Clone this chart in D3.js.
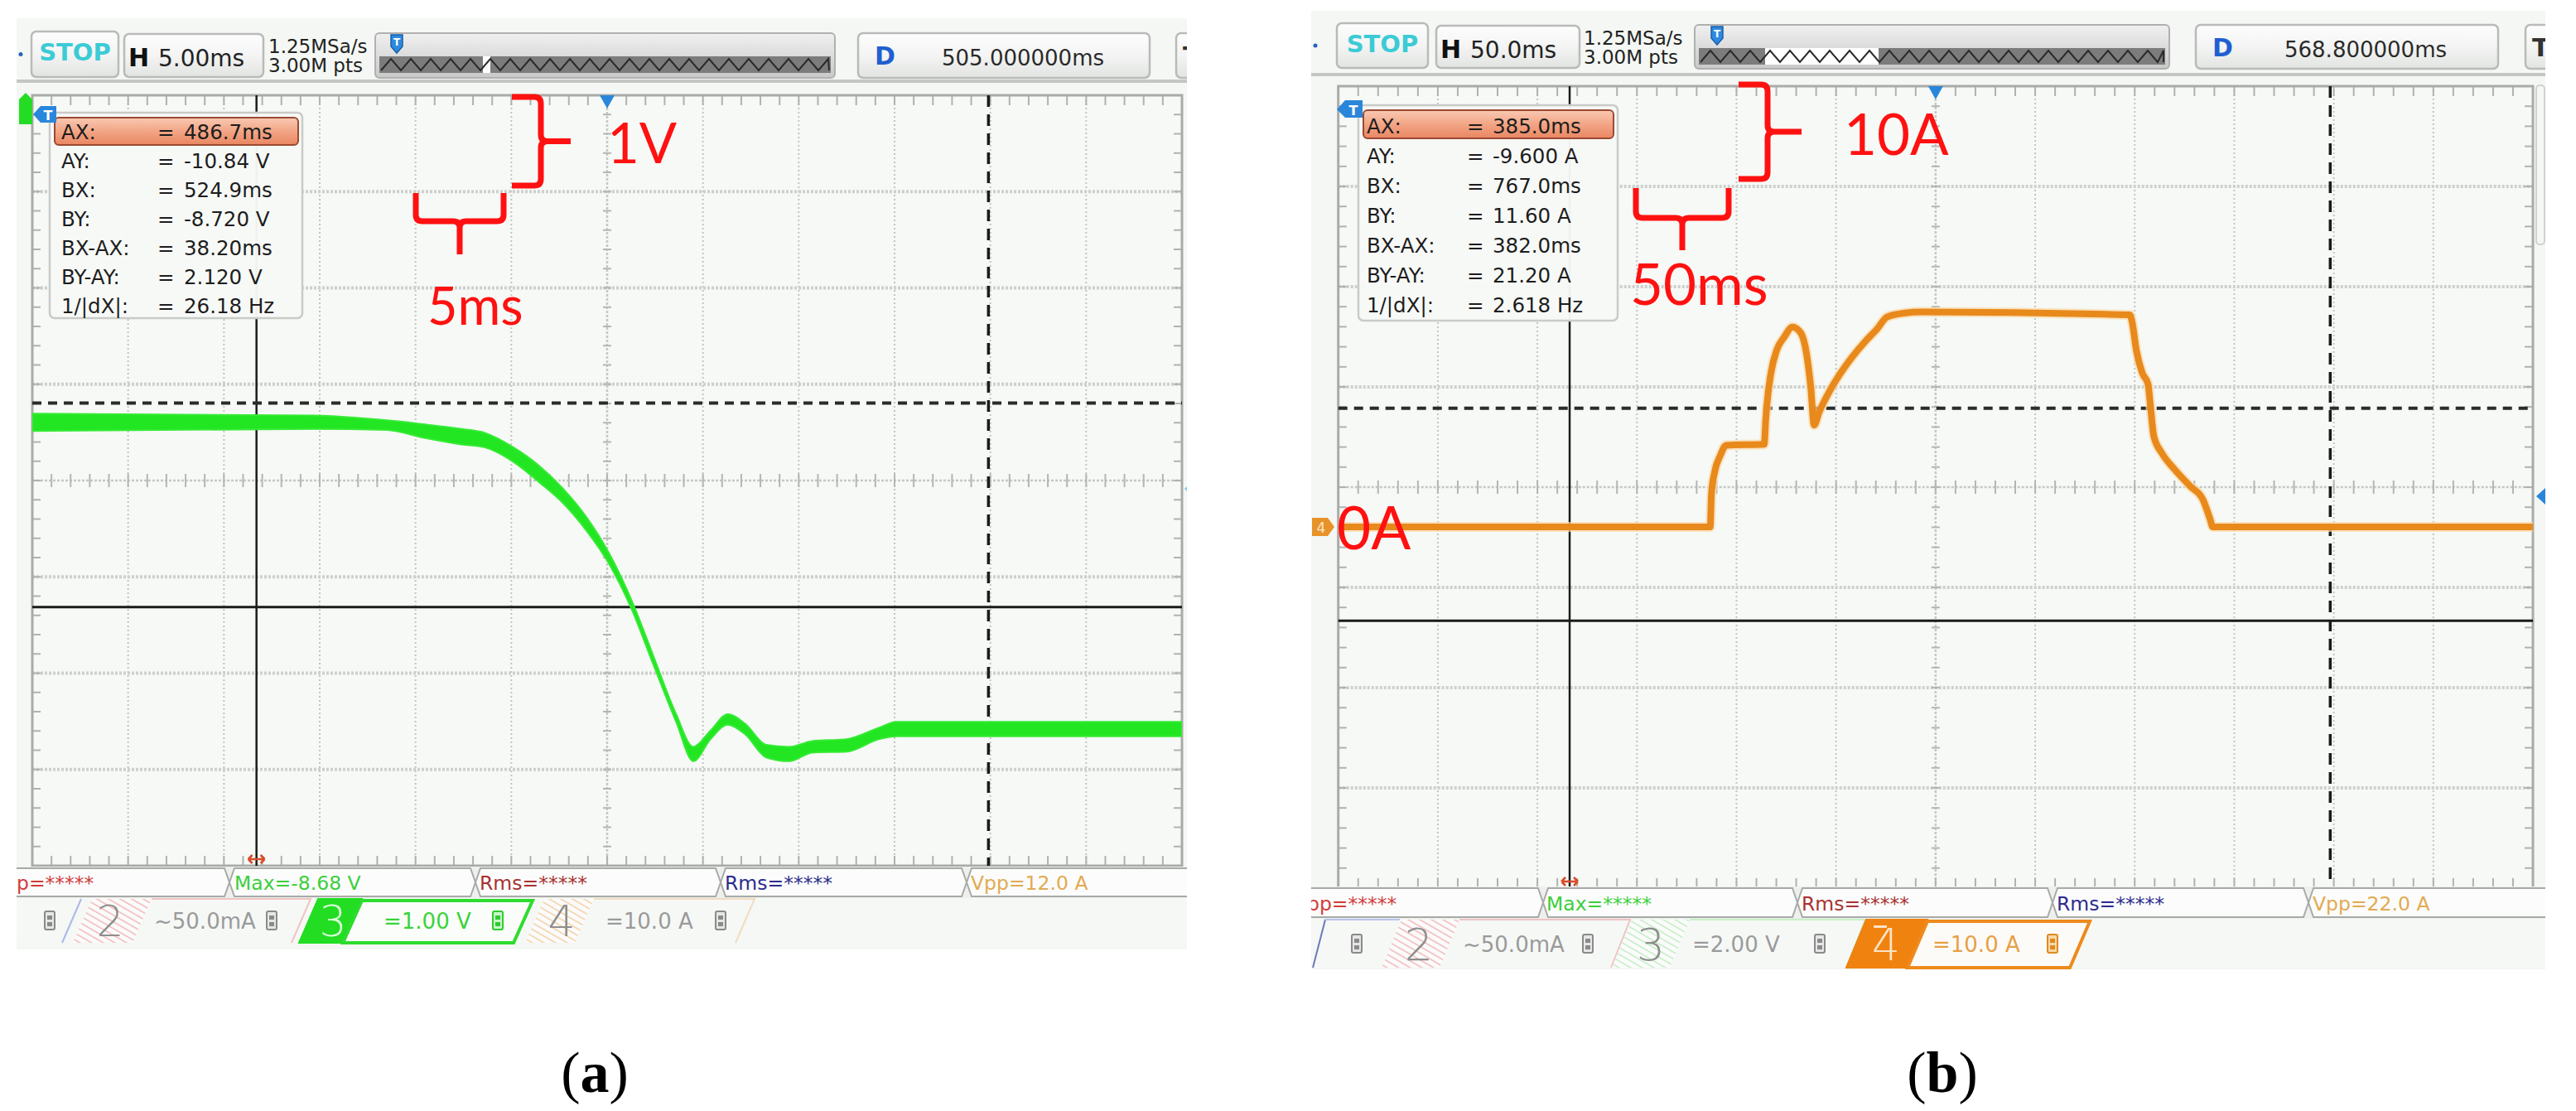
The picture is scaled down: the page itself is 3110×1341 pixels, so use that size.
<!DOCTYPE html>
<html><head><meta charset="utf-8">
<script src="https://cdn.jsdelivr.net/npm/d3@7"></script>
<style>body{margin:0;background:#fff}svg{display:block}</style>
</head><body>
<svg id="c" width="3110" height="1341"></svg>
<script>
// ================= DATA =================
// scope settings (a) and (b)
const timebaseText = ["5.00ms", "50.0ms"];
const delayText = ["505.000000ms", "568.800000ms"];
const sampleText = ["1.25MSa/s", "3.00M pts"];
const hDivMs = [5, 50];          // ms per division
const delayMs = [505.0, 568.8];  // screen centre time
const vDiv = [1, 10];            // V/div, A/div
const vCenter = [-9.525, 3.72];  // value at screen centre line

// cursor readouts
const cursorNames = ["AX:", "AY:", "BX:", "BY:", "BX-AX:", "BY-AY:", "1/|dX|:"];
const cursorValsA = ["486.7ms", "-10.84 V", "524.9ms", "-8.720 V", "38.20ms", "2.120 V", "26.18 Hz"];
const cursorValsB = ["385.0ms", "-9.600 A", "767.0ms", "11.60 A", "382.0ms", "21.20 A", "2.618 Hz"];
const cursorPosA = [486.7, -10.84, 524.9, -8.72];   // AX, AY, BX, BY
const cursorPosB = [385.0, -9.6, 767.0, 11.6];

// measurement bar and channel bar
const measA = ["p=*****", "Max=-8.68 V", "Rms=*****", "Rms=*****", "Vpp=12.0 A"];
const measB = ["pp=*****", "Max=*****", "Rms=*****", "Rms=*****", "Vpp=22.0 A"];
const chanA = ["~50.0mA", "=1.00 V", "=10.0 A"];
const chanB = ["~50.0mA", "=2.00 V", "=10.0 A"];

// (a) channel 3 voltage trace: time (ms), upper and lower edge of the noisy band (V)
const voltTime = [475.0, 489.7, 493.5, 495.4, 497.4, 498.6, 500.1, 501.5, 502.7, 503.9, 505.1, 506.3, 507.4, 508.6, 509.5, 510.4, 511.3, 512.2, 513.3, 514.5, 515.7, 517.5, 519.2, 520.1, 535.0];
const voltHigh = [-8.83, -8.85, -8.90, -8.94, -8.99, -9.03, -9.18, -9.38, -9.61, -9.90, -10.28, -10.78, -11.34, -11.95, -12.29, -12.12, -11.95, -12.05, -12.27, -12.29, -12.23, -12.21, -12.09, -12.03, -12.03];
const voltLow  = [-9.01, -8.99, -9.00, -9.08, -9.15, -9.18, -9.33, -9.55, -9.76, -10.04, -10.39, -10.87, -11.43, -12.03, -12.44, -12.21, -12.06, -12.16, -12.40, -12.44, -12.35, -12.34, -12.21, -12.18, -12.18];

// (b) channel 4 current trace: time (ms), current (A)
const currTime = [268.8, 455.6, 456.2, 457.8, 460.7, 463.6, 482.7, 483.5, 484.0, 486.1, 489.0, 492.8, 496.9, 501.1, 504.0, 506.1, 507.8, 510.3, 515.3, 521.1, 527.3, 533.2, 539.4, 544.4, 553.6, 561.5, 666.3, 667.6, 669.6, 672.6, 675.5, 676.7, 678.4, 682.5, 688.8, 696.7, 703.0, 706.7, 708.0, 868.8];
const currAmp  = [-0.25, -0.25, 3.0, 5.2, 6.9, 7.9, 8.0, 10.5, 11.8, 15.1, 17.4, 18.7, 19.7, 19.1, 17.0, 13.7, 9.9, 11.2, 13.2, 15.1, 16.8, 18.2, 19.5, 20.7, 21.1, 21.2, 20.9, 20.1, 17.4, 15.1, 14.0, 11.8, 8.8, 7.1, 5.5, 3.8, 2.5, 0.5, -0.25, -0.25];

// red annotations and captions
const annoA = ["1V", "5ms"];
const annoB = ["10A", "50ms", "0A"];
const captions = ["a", "b"];

// ================= DRAWING =================
const UI = "'DejaVu Sans', Verdana, sans-serif";
const svg = d3.select("#c");
svg.append("rect").attr("width", 3110).attr("height", 1341).attr("fill", "#fff");
const defs = svg.append("defs");

function lin(id, stops, vertical = true) {
  const g = defs.append("linearGradient").attr("id", id)
    .attr("x1", 0).attr("y1", 0).attr("x2", vertical ? 0 : 1).attr("y2", vertical ? 1 : 0);
  stops.forEach(s => g.append("stop").attr("offset", s[0]).attr("stop-color", s[1]));
}
lin("btn", [[0, "#fdfdfd"], [0.5, "#f3f4f3"], [1, "#e2e4e2"]]);
lin("tlg", [[0, "#f0f0f0"], [1, "#c9c9c9"]]);
lin("hl", [[0, "#f9c9b3"], [0.5, "#f2a585"], [1, "#e98662"]]);
function hatch(id, col) {
  const p = defs.append("pattern").attr("id", id).attr("patternUnits", "userSpaceOnUse")
    .attr("width", 7).attr("height", 7).attr("patternTransform", "rotate(-60)");
  p.append("rect").attr("width", 7).attr("height", 7).attr("fill", "#fbfbfb");
  p.append("line").attr("x1", 0).attr("y1", 0).attr("x2", 0).attr("y2", 7).attr("stroke", col).attr("stroke-width", 3);
}
hatch("hpink", "#f2b7b7");
hatch("hgreen", "#bfeebf");
hatch("horange", "#f4cfa2");

function rbox(g, x, y, w, h, fill = "url(#btn)", stroke = "#b9bbb9", r = 6, sw = 2.5) {
  return g.append("rect").attr("x", x).attr("y", y).attr("width", w).attr("height", h)
    .attr("rx", r).attr("fill", fill).attr("stroke", stroke).attr("stroke-width", sw);
}
function txt(g, x, y, s, size, col = "#222", opts = {}) {
  return g.append("text").attr("x", x).attr("y", y).text(s)
    .attr("font-family", opts.family || UI).attr("font-size", size).attr("fill", col)
    .attr("font-weight", opts.weight || "normal").attr("text-anchor", opts.anchor || "start");
}
function icon(g, cx, cy, col = "#8a8a8a", fill = "#e6e6e6") {
  g.append("rect").attr("x", cx - 6).attr("y", cy - 11).attr("width", 12).attr("height", 22).attr("rx", 2)
    .attr("fill", fill).attr("stroke", col).attr("stroke-width", 2);
  g.append("rect").attr("x", cx - 3).attr("y", cy - 6).attr("width", 6).attr("height", 5).attr("fill", col);
  g.append("rect").attr("x", cx - 3).attr("y", cy + 2).attr("width", 6).attr("height", 5).attr("fill", col);
}
function zigzag(x0, x1, yt, yb, period) {
  let d = `M${x0},${yb}`;
  for (let x = x0; x < x1; x += period) {
    d += `L${Math.min(x + period / 2, x1)},${yt}L${Math.min(x + period, x1)},${yb}`;
  }
  return d;
}
function para(g, xb0, xb1, y0, y1, slant, fill, stroke, sw = 2) {
  return g.append("path").attr("d", `M${xb0},${y1}L${xb0 + slant},${y0}L${xb1 + slant},${y0}L${xb1},${y1}Z`)
    .attr("fill", fill).attr("stroke", stroke).attr("stroke-width", sw);
}

function drawPanel(P) {
  const id = P.id;
  defs.append("clipPath").attr("id", "scr" + id).append("rect")
    .attr("x", P.screen[0]).attr("y", P.screen[1]).attr("width", P.screen[2]).attr("height", P.screen[3]);
  const g = svg.append("g").attr("clip-path", `url(#scr${id})`);
  g.append("rect").attr("x", P.screen[0]).attr("y", P.screen[1]).attr("width", P.screen[2]).attr("height", P.screen[3]).attr("fill", "#f4f7f3");

  // ---------- top bar ----------
  const ty = P.topY, th = P.topH;
  g.append("circle").attr("cx", P.screen[0] + 5).attr("cy", ty + th / 2).attr("r", 2.5).attr("fill", "#2a5fbf");
  rbox(g, P.stop[0], ty, P.stop[1] - P.stop[0], th);
  txt(g, (P.stop[0] + P.stop[1]) / 2, ty + 35, "STOP", 29, "#3ccbd6", { weight: "bold", anchor: "middle" });
  rbox(g, P.hbox[0], ty + 3, P.hbox[1] - P.hbox[0], th - 3);
  txt(g, P.hbox[0] + 5, ty + 42, "H", 30, "#111", { weight: "bold" });
  txt(g, P.hbox[0] + 41, ty + 42, P.tb, 28, "#222");
  txt(g, P.samp, ty + 26, sampleText[0], 23, "#222");
  txt(g, P.samp, ty + 49, sampleText[1], 23, "#222");
  // memory timeline
  rbox(g, P.tl[0], ty + 2, P.tl[1] - P.tl[0], th - 1, "url(#tlg)", "#b0b0b0", 5, 2);
  g.append("rect").attr("x", P.tl[0] + 5).attr("y", ty + 30).attr("width", P.tl[1] - P.tl[0] - 10).attr("height", 20).attr("fill", "#7c7c7c");
  g.append("rect").attr("x", P.win[0]).attr("y", ty + 30).attr("width", P.win[1]).attr("height", 20).attr("fill", "#ffffff");
  g.append("path").attr("d", zigzag(P.tl[0] + 7, P.tl[1] - 7, ty + 33, ty + 47, 24)).attr("fill", "none").attr("stroke", "#2a2a2a").attr("stroke-width", 2);
  g.append("path").attr("d", `M${P.tMark - 7},${ty + 4}h14v14l-7,8l-7,-8Z`).attr("fill", "#2c8ae0").attr("stroke", "#1a5fa8").attr("stroke-width", 1.5);
  txt(g, P.tMark, ty + 17, "T", 12, "#fff", { weight: "bold", anchor: "middle" });
  // delay box
  rbox(g, P.dbox[0], ty + 2, P.dbox[1] - P.dbox[0], th - 1);
  txt(g, P.dbox[0] + 20, ty + 40, "D", 30, "#1f5fd0", { weight: "bold" });
  txt(g, P.dValCx, ty + 41, P.delay, 26, "#2a2a2a", { anchor: "middle" });
  rbox(g, P.tbox, ty + 2, 60, th - 1);
  txt(g, P.tbox + 8, ty + 40, "T", 30, "#333", { weight: "bold" });
  g.append("line").attr("x1", P.screen[0]).attr("x2", P.screen[0] + P.screen[2]).attr("y1", P.sep).attr("y2", P.sep).attr("stroke", "#c4c6c4").attr("stroke-width", 4);

  // ---------- grid via scales ----------
  const G = P.grid;
  const t0 = P.delayMs - 6 * P.hdiv, t1 = P.delayMs + 6 * P.hdiv;
  const v0 = P.vc - 4 * P.vdiv, v1 = P.vc + 4 * P.vdiv;
  const xs = d3.scaleLinear().domain([t0, t1]).range([G.x0, G.x1]);
  const ys = d3.scaleLinear().domain([v0, v1]).range([G.y1, G.y0]);
  const tMaj = d3.range(13).map(i => t0 + i * P.hdiv);
  const vMaj = d3.range(9).map(i => v0 + i * P.vdiv);
  const tMin = d3.range(61).map(i => t0 + i * P.hdiv / 5);
  const vMin = d3.range(41).map(i => v0 + i * P.vdiv / 5);
  const gg = g.append("g");
  gg.append("rect").attr("x", G.x0).attr("y", G.y0).attr("width", G.x1 - G.x0).attr("height", G.y1 - G.y0).attr("fill", "#f6f9f5");
  gg.selectAll(null).data(tMaj.slice(1, -1).filter((d, i) => i !== 5)).join("line")
    .attr("x1", d => xs(d)).attr("x2", d => xs(d)).attr("y1", G.y0).attr("y2", G.y1)
    .attr("stroke", "#c3c5c3").attr("stroke-width", 2).attr("stroke-dasharray", "2,3");
  gg.selectAll(null).data(vMaj.slice(1, -1).filter((d, i) => i !== 3)).join("line")
    .attr("x1", G.x0).attr("x2", G.x1).attr("y1", d => ys(d)).attr("y2", d => ys(d))
    .attr("stroke", "#cdd0cd").attr("stroke-width", 4).attr("stroke-dasharray", "3,2");
  const cx = xs(P.delayMs), cy = ys(P.vc);
  gg.append("line").attr("x1", G.x0).attr("x2", G.x1).attr("y1", cy).attr("y2", cy).attr("stroke", "#c6c8c6").attr("stroke-width", 2.5).attr("stroke-dasharray", "3,2");
  gg.append("line").attr("x1", cx).attr("x2", cx).attr("y1", G.y0).attr("y2", G.y1).attr("stroke", "#c6c8c6").attr("stroke-width", 2.5).attr("stroke-dasharray", "3,2");
  // centre-axis minor ticks
  gg.selectAll(null).data(tMin).join("line").attr("x1", d => xs(d)).attr("x2", d => xs(d))
    .attr("y1", cy - 8).attr("y2", cy + 8).attr("stroke", "#b4b6b4").attr("stroke-width", 2);
  gg.selectAll(null).data(vMin).join("line").attr("y1", d => ys(d)).attr("y2", d => ys(d))
    .attr("x1", cx - 5).attr("x2", cx + 5).attr("stroke", "#b4b6b4").attr("stroke-width", 2);
  // edge ticks
  gg.selectAll(null).data(tMin).join("line").attr("x1", d => xs(d)).attr("x2", d => xs(d))
    .attr("y1", G.y0).attr("y2", G.y0 + 12).attr("stroke", "#b0b2b0").attr("stroke-width", 2);
  gg.selectAll(null).data(tMin).join("line").attr("x1", d => xs(d)).attr("x2", d => xs(d))
    .attr("y1", G.y1 - 12).attr("y2", G.y1).attr("stroke", "#b0b2b0").attr("stroke-width", 2);
  gg.selectAll(null).data(vMin).join("line").attr("y1", d => ys(d)).attr("y2", d => ys(d))
    .attr("x1", G.x0).attr("x2", G.x0 + 10).attr("stroke", "#b0b2b0").attr("stroke-width", 2);
  gg.selectAll(null).data(vMin).join("line").attr("y1", d => ys(d)).attr("y2", d => ys(d))
    .attr("x1", G.x1 - 10).attr("x2", G.x1).attr("stroke", "#b0b2b0").attr("stroke-width", 2);
  gg.append("rect").attr("x", G.x0).attr("y", G.y0).attr("width", G.x1 - G.x0).attr("height", G.y1 - G.y0)
    .attr("fill", "none").attr("stroke", "#a9aba9").attr("stroke-width", 3);
  // trigger position marker
  gg.append("path").attr("d", `M${cx - 9},${G.y0}L${cx + 9},${G.y0}L${cx},${G.y0 + 16}Z`).attr("fill", "#2a86db");

  // ---------- cursors ----------
  const C = P.cursor;
  const cl = g.append("g");
  cl.append("line").attr("x1", xs(C[0])).attr("x2", xs(C[0])).attr("y1", G.y0).attr("y2", G.y1).attr("stroke", "#1b1b1b").attr("stroke-width", 2.5);
  cl.append("line").attr("x1", G.x0).attr("x2", G.x1).attr("y1", ys(C[1])).attr("y2", ys(C[1])).attr("stroke", "#1b1b1b").attr("stroke-width", 3);
  cl.append("line").attr("x1", xs(C[2])).attr("x2", xs(C[2])).attr("y1", G.y0).attr("y2", G.y1).attr("stroke", "#1b1b1b").attr("stroke-width", 3.5).attr("stroke-dasharray", "14,9");
  cl.append("line").attr("x1", G.x0).attr("x2", G.x1).attr("y1", ys(C[3])).attr("y2", ys(C[3])).attr("stroke", "#2b2b2b").attr("stroke-width", 4).attr("stroke-dasharray", "11,8");
  g.append("path").attr("d", `M${xs(C[0]) - 10},${G.y1 - 8}h20M${xs(C[0]) - 10},${G.y1 - 8}l5,-5M${xs(C[0]) - 10},${G.y1 - 8}l5,5M${xs(C[0]) + 10},${G.y1 - 8}l-5,-5M${xs(C[0]) + 10},${G.y1 - 8}l-5,5`)
    .attr("stroke", "#d84a2a").attr("stroke-width", 2.5).attr("fill", "none");

  // ---------- trace ----------
  defs.append("clipPath").attr("id", "grid" + id).append("rect").attr("x", G.x0).attr("y", G.y0).attr("width", G.x1 - G.x0).attr("height", G.y1 - G.y0);
  const tg = g.append("g").attr("clip-path", `url(#grid${id})`);
  P.trace(tg, xs, ys);

  // ---------- cursor readout ----------
  const B = P.cbox;
  rbox(g, B.x, B.y, B.w, B.h, "#f7f9f7", "#c9cbc9", 6, 2.5).attr("fill-opacity", 0.97);
  rbox(g, B.x + 6, B.y + 6, B.w - 11, B.rowDy - 2, "url(#hl)", "#9b4a31", 5, 2);
  cursorNames.forEach((n, i) => {
    const yy = B.row0 + i * B.rowDy;
    txt(g, B.lx, yy, n, 24.5, "#1d1d1d");
    txt(g, B.ex, yy, "=", 24.5, "#1d1d1d");
    txt(g, B.vx, yy, P.cvals[i], 24.5, "#1d1d1d");
  });

  // ---------- measurement bar ----------
  const M = P.meas;
  const ym = (M.y0 + M.y1) / 2;
  g.append("rect").attr("x", P.screen[0]).attr("y", M.y0 - 2).attr("width", P.screen[2]).attr("height", M.y1 - M.y0 + 4).attr("fill", "#eef0ee");
  M.cuts.slice(0, -1).forEach((a, i) => {
    const b = M.cuts[i + 1];
    g.append("path").attr("d", `M${a},${ym}L${a + 6},${M.y0}L${b - 6},${M.y0}L${b},${ym}L${b - 6},${M.y1}L${a + 6},${M.y1}Z`)
      .attr("fill", "#fbfcfb").attr("stroke", "#a8aaa8").attr("stroke-width", 2);
  });
  const mcol = ["#d23b3b", "#3ccf3c", "#a83232", "#2c2c8e", "#e2aa52"];
  P.mtext.forEach((s, i) => txt(g, M.tx[i], ym + 9, s, 23.5, mcol[i]));

  // ---------- channel bar ----------
  P.channels(g);

  // ---------- markers ----------
  P.anno(g);
  return { xs, ys };
}

// ---------- channel bars ----------
function channelsA(g) {
  const y0 = 1085, y1 = 1138, s = 23, yc = 1111;
  g.append("rect").attr("x", 20).attr("y", y0).attr("width", 1413).attr("height", y1 - y0).attr("fill", "#f6f8f6");
  icon(g, 60, yc);
  g.append("line").attr("x1", 98).attr("y1", y0).attr("x2", 75).attr("y2", y1).attr("stroke", "#a9b8e8").attr("stroke-width", 2);
  para(g, 88, 160, y0, y1, s, "url(#hpink)", "none");
  g.append("path").attr("d", `M${160 + s},${y0}L375,${y0}L352,${y1}`).attr("fill", "none").attr("stroke", "#efc4c4").attr("stroke-width", 2);
  txt(g, 133, yc + 19, "2", 52, "#8e8e8e", { anchor: "middle", weight: 200 });
  txt(g, 186, yc + 10, chanA[0], 26, "#9a9a9a");
  icon(g, 328, yc);
  para(g, 361, 414, y0, y1, s, "#22dd22", "#22dd22");
  txt(g, 402, yc + 19, "3", 52, "#d8ffd8", { anchor: "middle", weight: 200 });
  para(g, 414, 620, y0 + 2, y1, s, "#fbfdfb", "#2edc2e", 4);
  txt(g, 463, yc + 10, chanA[1], 26, "#39d439");
  icon(g, 601, yc, "#2ecc2e", "#c9f5c9");
  para(g, 634, 694, y0, y1, s, "url(#horange)", "none");
  g.append("path").attr("d", `M${694 + s},${y0}L911,${y0}L888,${y1}`).attr("fill", "none").attr("stroke", "#f1dcc0").attr("stroke-width", 2);
  txt(g, 678, yc + 19, "4", 52, "#8e8e8e", { anchor: "middle", weight: 200 });
  txt(g, 731, yc + 10, chanA[2], 26, "#9a9a9a");
  icon(g, 870, yc);
}
function channelsB(g) {
  const y0 = 1110, y1 = 1168, s = 24, yc = 1139;
  g.append("rect").attr("x", 1583).attr("y", y0).attr("width", 1490).attr("height", y1 - y0).attr("fill", "#f6f8f6");
  g.append("line").attr("x1", 1600).attr("y1", y0).attr("x2", 1585).attr("y2", y1).attr("stroke", "#6a7ab8").attr("stroke-width", 2);
  g.append("line").attr("x1", 1600).attr("y1", y0).attr("x2", 1690).attr("y2", y0).attr("stroke", "#b9c4ec").attr("stroke-width", 2);
  icon(g, 1638, yc);
  para(g, 1668, 1738, y0, y1, s, "url(#hpink)", "none");
  g.append("path").attr("d", `M${1738 + s},${y0}L1968,${y0}L1945,${y1}`).attr("fill", "none").attr("stroke", "#efc4c4").attr("stroke-width", 2);
  txt(g, 1713, yc + 20, "2", 54, "#8e8e8e", { anchor: "middle", weight: 200 });
  txt(g, 1766, yc + 10, chanB[0], 26, "#9a9a9a");
  icon(g, 1917, yc);
  para(g, 1946, 2016, y0, y1, s, "url(#hgreen)", "none");
  g.append("path").attr("d", `M${2016 + s},${y0}L2252,${y0}L2229,${y1}`).attr("fill", "none").attr("stroke", "#c8efc8").attr("stroke-width", 2);
  txt(g, 1993, yc + 20, "3", 54, "#8e8e8e", { anchor: "middle", weight: 200 });
  txt(g, 2043, yc + 10, chanB[1], 26, "#9a9a9a");
  icon(g, 2197, yc);
  para(g, 2229, 2303, y0, y1, s, "#f0820f", "#f0820f");
  g.append("rect").attr("x", 2262).attr("y", y0 + 7).attr("width", 16).attr("height", 3).attr("fill", "#fde3c4");
  txt(g, 2277, yc + 20, "4", 54, "#fde3c4", { anchor: "middle", weight: 200 });
  para(g, 2303, 2499, y0 + 2, y1, s, "#fdfbf8", "#ee8a1c", 4);
  txt(g, 2333, yc + 10, chanB[2], 26, "#e6a044");
  icon(g, 2478, yc, "#e08a20", "#f6d9a8");
}

// ---------- traces ----------
function traceA(g, xs, ys) {
  const pts = voltTime.map((t, i) => ({ t, hi: voltHigh[i], lo: voltLow[i] }));
  const area = d3.area().x(d => xs(d.t)).y0(d => ys(d.lo)).y1(d => ys(d.hi)).curve(d3.curveMonotoneX);
  g.append("path").attr("d", area(pts)).attr("fill", "#21e621").attr("stroke", "#36ea36").attr("stroke-width", 2);
}
function traceB(g, xs, ys) {
  const pts = currTime.map((t, i) => ({ t, a: currAmp[i] }));
  const line = d3.line().x(d => xs(d.t)).y(d => ys(d.a)).curve(d3.curveMonotoneX);
  g.append("path").attr("d", line(pts)).attr("fill", "none").attr("stroke", "#fbd9a8").attr("stroke-width", 12).attr("stroke-linejoin", "round").attr("opacity", 0.7);
  g.append("path").attr("d", line(pts)).attr("fill", "none").attr("stroke", "#e8891c").attr("stroke-width", 8).attr("stroke-linejoin", "round");
}

// ---------- annotations ----------
const RED = "#ff1111";
const ANNO = "Lato, 'Open Sans', sans-serif";
function braceR(g, x, yt, yb, xv, xt) {
  const ym = (yt + yb) / 2;
  g.append("path").attr("d",
    `M${x},${yt}L${xv - 8},${yt}Q${xv},${yt} ${xv},${yt + 8}L${xv},${ym - 8}Q${xv},${ym} ${xv + 8},${ym}L${xt},${ym}` +
    `M${xv + 8},${ym}Q${xv},${ym} ${xv},${ym + 8}L${xv},${yb - 8}Q${xv},${yb} ${xv - 8},${yb}L${x},${yb}`)
    .attr("fill", "none").attr("stroke", RED).attr("stroke-width", 7).attr("stroke-linejoin", "round");
}
function braceU(g, xl, xr, yt, yh, yb) {
  const xm = (xl + xr) / 2;
  g.append("path").attr("d",
    `M${xl},${yt}L${xl},${yh - 8}Q${xl},${yh} ${xl + 8},${yh}L${xm - 8},${yh}Q${xm},${yh} ${xm},${yh + 8}L${xm},${yb}` +
    `M${xm},${yh + 8}Q${xm},${yh} ${xm + 8},${yh}L${xr - 8},${yh}Q${xr},${yh} ${xr},${yh - 8}L${xr},${yt}`)
    .attr("fill", "none").attr("stroke", RED).attr("stroke-width", 7).attr("stroke-linejoin", "round");
}
function annoLeft(g) {
  g.append("path").attr("d", "M23,150L23,120L31,112L39,120L39,150Z").attr("fill", "#25dc25");
  g.append("path").attr("d", "M40,138L49,128L68,128L68,148L49,148Z").attr("fill", "#2a86db");
  txt(g, 58, 145, "T", 16, "#fff", { weight: "bold", anchor: "middle" });
  g.append("path").attr("d", "M1436,584L1430,590L1436,596Z").attr("fill", "#8cc8ee");
  braceR(svg, 618, 117, 224, 653, 689);
  braceU(svg, 502, 608, 233, 267, 307);
  txt(svg, 733, 197, annoA[0], 67, RED, { family: ANNO });
  txt(svg, 516, 392, annoA[1], 63, RED, { family: ANNO });
}
function annoRight(g) {
  g.append("path").attr("d", "M1614,132L1624,121L1645,121L1645,142L1624,142Z").attr("fill", "#2a86db");
  txt(g, 1634, 139, "T", 16, "#fff", { weight: "bold", anchor: "middle" });
  g.append("rect").attr("x", 3062).attr("y", 103).attr("width", 10).attr("height", 192).attr("rx", 4).attr("fill", "none").attr("stroke", "#d0d2d0").attr("stroke-width", 2);
  g.append("path").attr("d", "M3062,599L3073,589L3073,609Z").attr("fill", "#2a86db");
}

// ---------- panels ----------
const panelA = drawPanel({
  id: "A", screen: [20, 22, 1413, 1124], topY: 38, topH: 55,
  stop: [38, 143], hbox: [150, 318], samp: 324, tl: [453, 1008], win: [583, 9], tMark: 479,
  dbox: [1036, 1388], dValCx: 1235, tbox: 1420, sep: 98,
  tb: timebaseText[0], delay: delayText[0],
  grid: { x0: 39, x1: 1427, y0: 115, y1: 1045 },
  hdiv: hDivMs[0], delayMs: delayMs[0], vdiv: vDiv[0], vc: vCenter[0],
  cursor: cursorPosA, cvals: cursorValsA,
  cbox: { x: 60, y: 136, w: 305, h: 248, row0: 168, rowDy: 35, lx: 74, ex: 190, vx: 222 },
  meas: { y0: 1048, y1: 1082, cuts: [-10, 277, 574, 870, 1167, 1460], tx: [20, 283, 579, 875, 1172] },
  mtext: measA, trace: traceA, channels: channelsA, anno: annoLeft
});
const panelB = drawPanel({
  id: "B", screen: [1583, 13, 1490, 1157], topY: 28, topH: 54,
  stop: [1614, 1724], hbox: [1734, 1907], samp: 1912, tl: [2046, 2619], win: [2131, 137], tMark: 2073,
  dbox: [2651, 3016], dValCx: 2856, tbox: 3049, sep: 90,
  tb: timebaseText[1], delay: delayText[1],
  grid: { x0: 1615.7, x1: 3058, y0: 104, y1: 1072 },
  hdiv: hDivMs[1], delayMs: delayMs[1], vdiv: vDiv[1], vc: vCenter[1],
  cursor: cursorPosB, cvals: cursorValsB,
  cbox: { x: 1640, y: 127, w: 313, h: 260, row0: 161, rowDy: 36, lx: 1650, ex: 1771, vx: 1802 },
  meas: { y0: 1072, y1: 1107, cuts: [1560, 1863, 2170, 2478, 2787, 3100], tx: [1578, 1867, 2175, 2483, 2792] },
  mtext: measB, trace: traceB, channels: channelsB, anno: annoRight
});
// channel 4 ground marker and right-panel red annotations
const y0A = panelB.ys(currAmp[0]);
svg.append("path").attr("d", `M1584,${y0A - 11}L1603,${y0A - 11}L1611,${y0A}L1603,${y0A + 11}L1584,${y0A + 11}Z`).attr("fill", "#e8922a");
txt(svg, 1595, y0A + 7, "4", 17, "#fde8cc", { anchor: "middle" });
braceR(svg, 2099, 102, 216, 2134, 2175);
braceU(svg, 1975, 2087, 227, 263, 302);
txt(svg, 2226, 187, annoB[0], 69, RED, { family: ANNO });
txt(svg, 1968, 368, annoB[1], 69, RED, { family: ANNO });
txt(svg, 1614, 663, annoB[2], 71, RED, { family: ANNO });

// ---------- captions ----------
[[718, captions[0]], [2345, captions[1]]].forEach(([x, c]) => {
  const t = svg.append("text").attr("x", x).attr("y", 1318).attr("text-anchor", "middle")
    .attr("font-family", "'Liberation Serif', 'Times New Roman', serif").attr("font-size", 70).attr("fill", "#000");
  t.append("tspan").text("(");
  t.append("tspan").attr("font-weight", "bold").text(c);
  t.append("tspan").text(")");
});
</script>
</body></html>
